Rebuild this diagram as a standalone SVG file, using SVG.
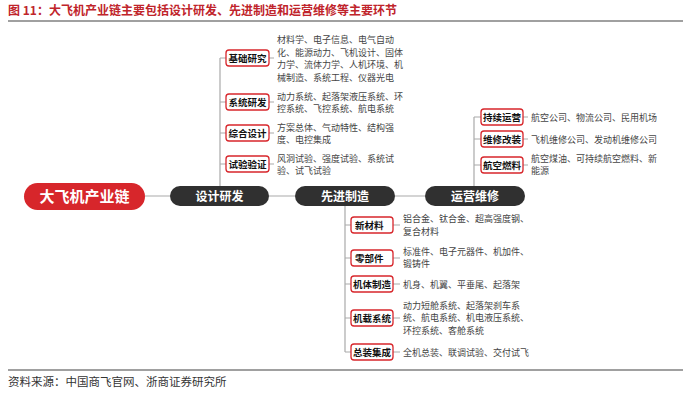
<svg xmlns="http://www.w3.org/2000/svg" width="700" height="400" viewBox="0 0 700 400">
<style>
.t{font-family:"Noto Sans CJK SC","Liberation Sans",sans-serif;}
.title{font-size:12px;font-weight:bold;fill:#c0242b;}
.src{font-family:"Liberation Serif","Noto Sans CJK SC",serif;font-size:11.5px;fill:#333;}
.rule{stroke:#808080;stroke-width:1.5;}
.main{fill:#d7262b;}
.mainT{font-size:15px;font-weight:bold;fill:#fff;}
.pill{fill:#303030;}
.pillT{font-size:12px;font-weight:bold;fill:#fff;}
.box{fill:#fff;stroke:#d7262b;stroke-width:1.3;}
.boxT{font-size:9.5px;font-weight:bold;fill:#111;}
.desc{font-size:9px;fill:#444;}
.c{stroke:#aaaaaa;stroke-width:1.2;fill:none;}
</style>
<text class="t title" x="8" y="15">图 11：大飞机产业链主要包括设计研发、先进制造和运营维修等主要环节</text>
<line class="rule" x1="8" y1="21" x2="683" y2="21"/>
<line class="rule" x1="8" y1="370" x2="683" y2="370"/>
<text class="src" x="8" y="386">资料来源：中国商飞官网、浙商证券研究所</text>

<g id="connectors">
<path class="c" d="M145,196H170M269,196H295M395,196H425"/>
<path class="c" d="M220,186V58M220,58H226M220,102H226M220,133H226M220,164H226"/>
<path class="c" d="M269,58H274M269,102H274M269,133H274M269,164H274"/>
<path class="c" d="M345,206V352M345,225H351M345,258H351M345,284H351M345,318H351M345,352H351"/>
<path class="c" d="M393,225H400M393,258H400M393,284H400M393,318H400M393,352H400"/>
<path class="c" d="M474,186V117M474,117H481M474,139H481M474,165H481"/>
<path class="c" d="M523,117H528M523,139H528M523,165H528"/>
</g>

<g id="n-main"><rect class="main" x="24" y="183" width="121" height="27" rx="13.5"/><text class="t mainT" x="84.5" y="202" text-anchor="middle">大飞机产业链</text></g>
<g id="n-design"><rect class="pill" x="170" y="186" width="99" height="20" rx="10"/><text class="t pillT" x="219.5" y="200.5" text-anchor="middle">设计研发</text></g>
<g id="n-manu"><rect class="pill" x="295" y="186" width="100" height="20" rx="10"/><text class="t pillT" x="345" y="200.5" text-anchor="middle">先进制造</text></g>
<g id="n-ops"><rect class="pill" x="425" y="186" width="100" height="20" rx="10"/><text class="t pillT" x="475" y="200.5" text-anchor="middle">运营维修</text></g>

<g id="n-jcyj"><rect class="box" x="226" y="50" width="43" height="16" rx="3"/><text class="t boxT" x="247.5" y="61.5" text-anchor="middle">基础研究</text>
<text class="t desc" x="277"><tspan x="277" y="43">材料学、电子信息、电气自动</tspan><tspan x="277" y="55.5">化、能源动力、飞机设计、固体</tspan><tspan x="277" y="68">力学、流体力学、人机环境、机</tspan><tspan x="277" y="80.5">械制造、系统工程、仪器光电</tspan></text></g>
<g id="n-xtyf"><rect class="box" x="226" y="94" width="43" height="16" rx="3"/><text class="t boxT" x="247.5" y="105.5" text-anchor="middle">系统研发</text>
<text class="t desc"><tspan x="277" y="99.5">动力系统、起落架液压系统、环</tspan><tspan x="277" y="112">控系统、飞控系统、航电系统</tspan></text></g>
<g id="n-zhsj"><rect class="box" x="226" y="125" width="43" height="16" rx="3"/><text class="t boxT" x="247.5" y="136.5" text-anchor="middle">综合设计</text>
<text class="t desc"><tspan x="277" y="130.5">方案总体、气动特性、结构强</tspan><tspan x="277" y="143">度、电控集成</tspan></text></g>
<g id="n-syyz"><rect class="box" x="226" y="156" width="43" height="16" rx="3"/><text class="t boxT" x="247.5" y="167.5" text-anchor="middle">试验验证</text>
<text class="t desc"><tspan x="277" y="161.5">风洞试验、强度试验、系统试</tspan><tspan x="277" y="174">验、试飞试验</tspan></text></g>

<g id="n-xcl"><rect class="box" x="351" y="217" width="42" height="16" rx="3"/><text class="t boxT" x="355" y="228.5">新材料</text>
<text class="t desc"><tspan x="403" y="222">铝合金、钛合金、超高强度钢、</tspan><tspan x="403" y="234.5">复合材料</tspan></text></g>
<g id="n-lbj"><rect class="box" x="351" y="250" width="42" height="16" rx="3"/><text class="t boxT" x="355" y="261.5">零部件</text>
<text class="t desc"><tspan x="403" y="254.5">标准件、电子元器件、机加件、</tspan><tspan x="403" y="267">锻铸件</tspan></text></g>
<g id="n-jtzz"><rect class="box" x="351" y="276" width="42" height="16" rx="3"/><text class="t boxT" x="372" y="287.5" text-anchor="middle">机体制造</text>
<text class="t desc" x="403" y="287.5">机身、机翼、平垂尾、起落架</text></g>
<g id="n-jzxt"><rect class="box" x="351" y="310" width="42" height="16" rx="3"/><text class="t boxT" x="372" y="321.5" text-anchor="middle">机载系统</text>
<text class="t desc"><tspan x="403" y="308.5">动力短舱系统、起落架刹车系</tspan><tspan x="403" y="321">统、航电系统、机电液压系统、</tspan><tspan x="403" y="333.5">环控系统、客舱系统</tspan></text></g>
<g id="n-zzjc"><rect class="box" x="351" y="344" width="42" height="16" rx="3"/><text class="t boxT" x="372" y="355.5" text-anchor="middle">总装集成</text>
<text class="t desc" x="403" y="355.5">全机总装、联调试验、交付试飞</text></g>

<g id="n-cxyy"><rect class="box" x="481" y="109" width="42" height="16" rx="3"/><text class="t boxT" x="502" y="120.5" text-anchor="middle">持续运营</text>
<text class="t desc" x="531" y="120.5">航空公司、物流公司、民用机场</text></g>
<g id="n-wxgz"><rect class="box" x="481" y="131" width="42" height="16" rx="3"/><text class="t boxT" x="502" y="142.5" text-anchor="middle">维修改装</text>
<text class="t desc" x="531" y="142.5">飞机维修公司、发动机维修公司</text></g>
<g id="n-hkrl"><rect class="box" x="481" y="157" width="42" height="16" rx="3"/><text class="t boxT" x="502" y="168.5" text-anchor="middle">航空燃料</text>
<text class="t desc"><tspan x="531" y="161.5">航空煤油、可持续航空燃料、新</tspan><tspan x="531" y="174">能源</tspan></text></g>
</svg>
